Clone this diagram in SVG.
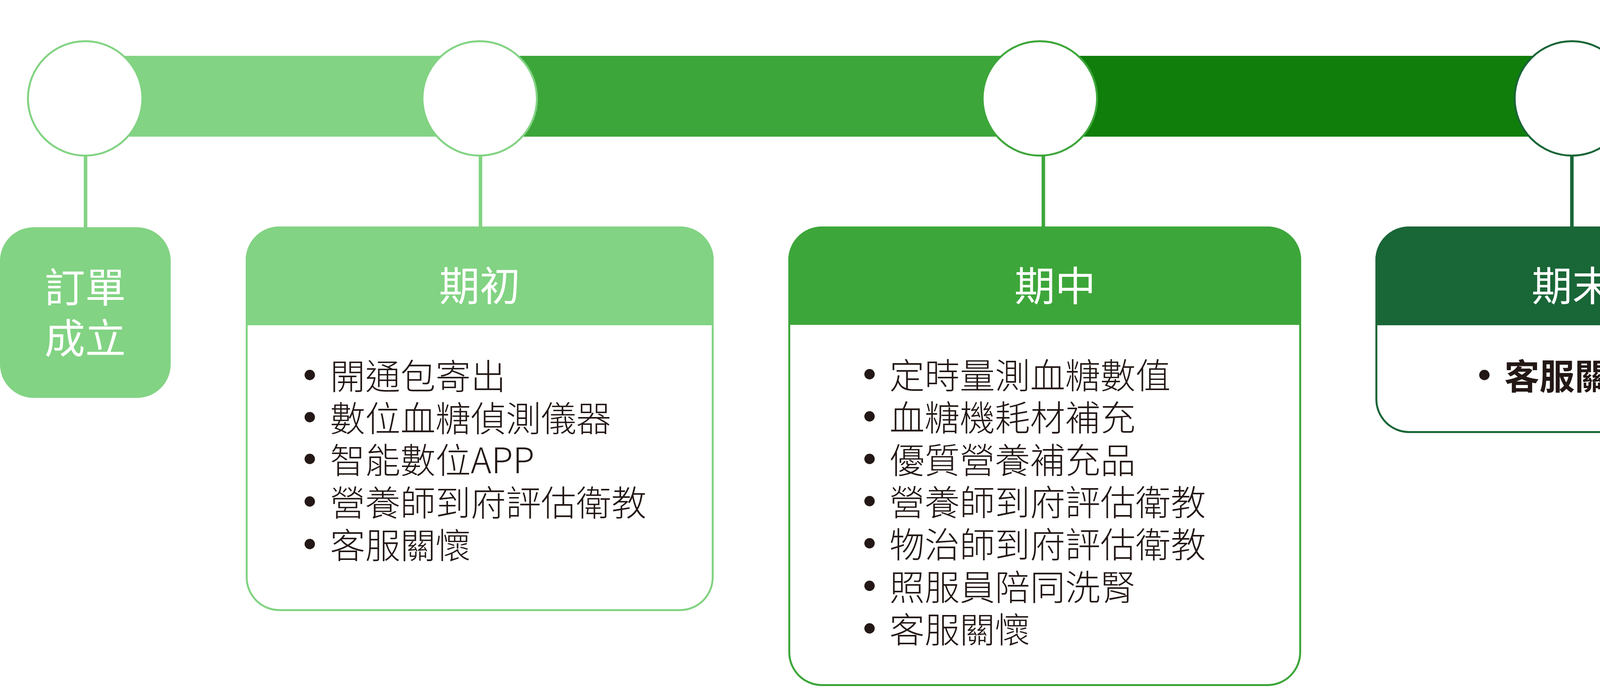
<svg xmlns="http://www.w3.org/2000/svg" width="5533" height="1762" viewBox="0 0 5533 1762">
<style>
text{font-family:"Noto Sans CJK TC","Noto Sans CJK SC",sans-serif;}
.hd{fill:#ffffff;font-size:104px;font-weight:400;}
.bd{fill:#231815;font-size:90px;font-weight:300;}
.bb{fill:#231815;font-size:90px;font-weight:700;}
.bu{font-size:104px;font-weight:700;}
.node{fill:#ffffff;stroke-width:5;}
.ln{stroke-width:9;fill:none;}
.L{fill:#82D383;}.M{fill:#3DA63A;}.D{fill:#107E0B;}.X{fill:#196637;}
.sL{stroke:#82D383;}.sM{stroke:#3DA63A;}.sX{stroke:#196637;}
</style>
<g id="timeline">
<rect class="L" x="218" y="143" width="1010" height="207"/>
<rect class="M" x="1228" y="143" width="1434" height="207"/>
<rect class="D" x="2662" y="143" width="1362" height="207"/>
<rect class="X" x="4024" y="143" width="1218" height="207"/>
<polygon class="X" points="5241,0 5533,247 5241,494"/>
</g>
<g id="connectors">
<line class="ln sL" x1="219" y1="400" x2="219" y2="583"/>
<line class="ln sL" x1="1230" y1="400" x2="1230" y2="581"/>
<line class="ln sM" x1="2671" y1="400" x2="2671" y2="581"/>
<line class="ln sX" x1="4024" y1="400" x2="4024" y2="581"/>
<line class="ln sX" x1="4976" y1="400" x2="4976" y2="584"/>
</g>
<g id="milestones">
<circle class="node sL" cx="218" cy="252" r="146.5"/>
<circle class="node sL" cx="1228" cy="252" r="146.5"/>
<circle class="node sM" cx="2662" cy="252" r="146.5"/>
<circle class="node sX" cx="4024" cy="252" r="146.5"/>
<circle class="node sX" cx="4976" cy="252" r="146.5"/>
</g>
<g id="order">
<rect class="L" x="0" y="582" width="437" height="437" rx="86"/>
<text class="hd" text-anchor="middle"><tspan x="218" y="775">訂單</tspan><tspan x="218" y="905">成立</tspan></text>
</g>
<g id="early">
<rect class="node sL" x="631.5" y="582.5" width="1193" height="980" rx="84"/>
<path class="L" d="M629,833 V666 A86,86 0 0 1 715,580 H1741 A86,86 0 0 1 1827,666 V833 Z"/>
<text class="hd" x="1228" y="771" text-anchor="middle">期初</text>
<text class="bd"><tspan class="bu" x="793" y="1000" text-anchor="middle">•</tspan><tspan x="845" y="997">開通包寄出</tspan></text>
<text class="bd"><tspan class="bu" x="793" y="1108" text-anchor="middle">•</tspan><tspan x="845" y="1105">數位血糖偵測儀器</tspan></text>
<text class="bd"><tspan class="bu" x="793" y="1215" text-anchor="middle">•</tspan><tspan x="845" y="1212">智能數位APP</tspan></text>
<text class="bd"><tspan class="bu" x="793" y="1324" text-anchor="middle">•</tspan><tspan x="845" y="1321">營養師到府評估衛教</tspan></text>
<text class="bd"><tspan class="bu" x="793" y="1433" text-anchor="middle">•</tspan><tspan x="845" y="1430">客服關懷</tspan></text>
</g>
<g id="middle">
<rect class="node sM" x="2020.5" y="582.5" width="1308" height="1172" rx="84"/>
<path class="M" d="M2018,832 V666 A86,86 0 0 1 2104,580 H3245 A86,86 0 0 1 3331,666 V832 Z"/>
<text class="hd" x="2701" y="771" text-anchor="middle">期中</text>
<text class="bd"><tspan class="bu" x="2226" y="998" text-anchor="middle">•</tspan><tspan x="2277" y="995">定時量測血糖數值</tspan></text>
<text class="bd"><tspan class="bu" x="2226" y="1106" text-anchor="middle">•</tspan><tspan x="2277" y="1103">血糖機耗材補充</tspan></text>
<text class="bd"><tspan class="bu" x="2226" y="1215" text-anchor="middle">•</tspan><tspan x="2277" y="1212">優質營養補充品</tspan></text>
<text class="bd"><tspan class="bu" x="2226" y="1323" text-anchor="middle">•</tspan><tspan x="2277" y="1320">營養師到府評估衛教</tspan></text>
<text class="bd"><tspan class="bu" x="2226" y="1431" text-anchor="middle">•</tspan><tspan x="2277" y="1428">物治師到府評估衛教</tspan></text>
<text class="bd"><tspan class="bu" x="2226" y="1540" text-anchor="middle">•</tspan><tspan x="2277" y="1537">照服員陪同洗腎</tspan></text>
<text class="bd"><tspan class="bu" x="2226" y="1649" text-anchor="middle">•</tspan><tspan x="2277" y="1646">客服關懷</tspan></text>
</g>
<g id="late">
<rect class="node sX" x="3523.5" y="582.5" width="1000" height="524" rx="84"/>
<path class="X" d="M3521,833 V666 A86,86 0 0 1 3607,580 H4440 A86,86 0 0 1 4526,666 V833 Z"/>
<text class="hd" x="4025" y="771" text-anchor="middle">期末</text>
<text class="bb"><tspan class="bu" x="3800" y="1000" text-anchor="middle">•</tspan><tspan x="3851" y="997">客服關懷</tspan></text>
</g>
<g id="end">
<rect class="X" x="4719" y="583" width="513" height="512" rx="86"/>
<text class="hd"><tspan x="4812" y="836">結束或</tspan><tspan x="4812" y="968">續訂</tspan></text>
</g>
</svg>
